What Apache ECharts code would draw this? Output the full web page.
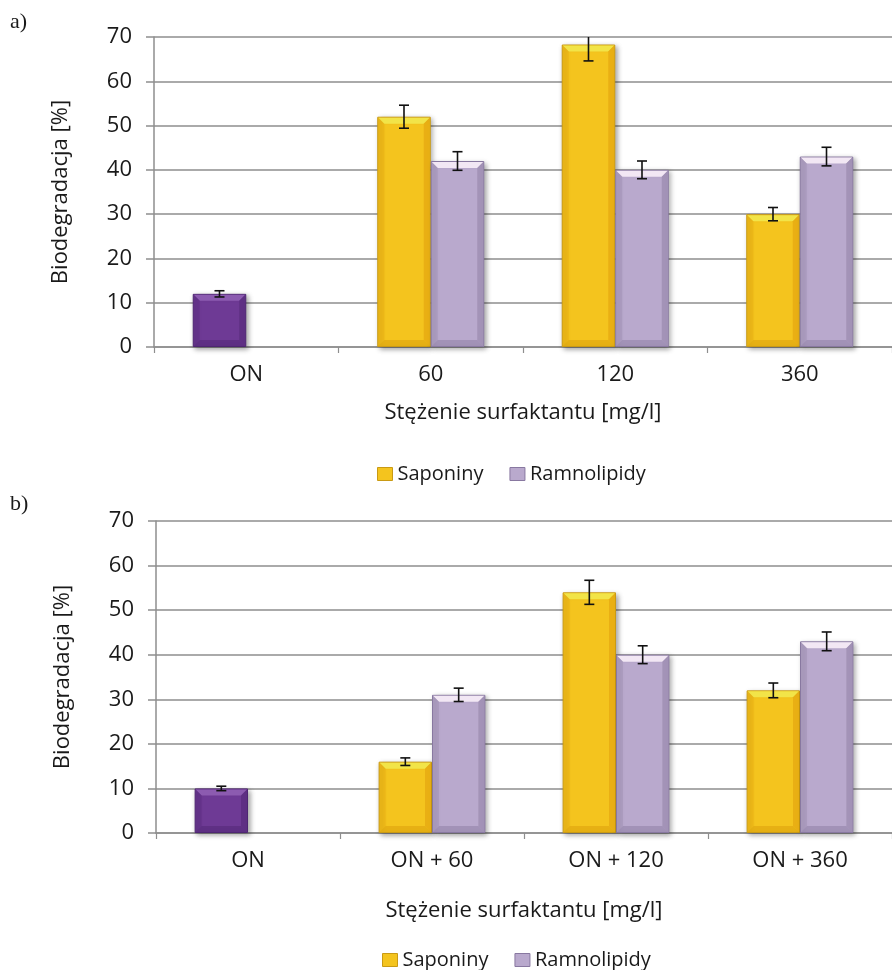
<!DOCTYPE html>
<html><head><meta charset="utf-8">
<script src="https://cdn.jsdelivr.net/npm/echarts@6/dist/echarts.min.js"></script>
<style>html,body{margin:0;padding:0;background:#fff}#c{width:892px;height:970px}</style>
</head><body><div id="c"></div>
<script>
// ---- data ----
const seriesNames = ['Saponiny', 'Ramnolipidy'];
const yTicks = [0, 10, 20, 30, 40, 50, 60, 70];
const categoriesA = ['ON', '60', '120', '360'];
const saponinyA = [12, 52, 68.3, 30];
const ramnolipidyA = [null, 42, 40, 43];
const saponinyErrA = [0.7, 2.6, 3.7, 1.5];
const ramnolipidyErrA = [null, 2.1, 2.0, 2.1];
const categoriesB = ['ON', 'ON + 60', 'ON + 120', 'ON + 360'];
const saponinyB = [10, 16, 54, 32];
const ramnolipidyB = [null, 31, 40, 43];
const saponinyErrB = [0.5, 0.85, 2.7, 1.65];
const ramnolipidyErrB = [null, 1.5, 2.0, 2.1];
const titleA = 'a)', titleB = 'b)';
const xName = 'Stężenie surfaktantu [mg/l]';
const yName = 'Biodegradacja [%]';

// ---- styling ----
const FONT = 'Open Sans';
const FS = 22;
const LFS = 20;
const TXT = '#1a1a1a';
const GRIDC = '#8e8e8e';
const GAP = 0.42; // bar category gap
const pal = {
  sap: {main: '#F4C41E', top: '#F2E448', side: '#E6AA12', bottom: '#DDA30E', border: '#C99A14'},
  ram: {main: '#B9A9CD', top: '#F2E7F4', side: '#9D8DB2', bottom: '#9283A8', border: '#8878A0'},
  on:  {main: '#6E3A95', top: '#8C5BB0', side: '#5B2D80', bottom: '#55297A', border: '#4E2672'}
};

function barSeries(name, data, xi, p, onFirst) {
  return {
    name: name, type: 'bar', xAxisIndex: xi, yAxisIndex: xi,
    barGap: '0%', barCategoryGap: (GAP * 100) + '%',
    data: data.map((v, i) => (onFirst && i === 0) ? {value: v, itemStyle: {color: pal.on.main, borderColor: pal.on.border}} : v),
    itemStyle: {color: p.main, borderColor: p.border, borderWidth: 1,
      shadowColor: 'rgba(0,0,0,0.35)', shadowBlur: 5, shadowOffsetX: 2, shadowOffsetY: 2},
    emphasis: {disabled: true}, z: 2
  };
}

function slotX(api, idx, val, side) {
  const c = api.coord([idx, val]);
  const band = api.size([1, 0])[0];
  const bw = band * (1 - GAP) / 2;
  return {x: c[0] + side * bw / 2, bw: bw, y: c[1]};
}

function bevelSeries(vals, xi, p, side, onFirst) {
  const data = [];
  vals.forEach((v, i) => { if (v != null) data.push([i, v]); });
  return {
    type: 'custom', xAxisIndex: xi, yAxisIndex: xi, silent: true, z: 3,
    data: data,
    renderItem: function (params, api) {
      const idx = api.value(0), v = api.value(1);
      const s = slotX(api, idx, v, side);
      const y0 = api.coord([idx, 0])[1];
      const cols = (onFirst && idx === 0) ? pal.on : p;
      const l = s.x - s.bw / 2 + 1, r = s.x + s.bw / 2 - 1, t = s.y + 1, b = y0 - 1;
      const bv = Math.min(6, (b - t) / 2);
      return {type: 'group', children: [
        {type: 'polygon', shape: {points: [[l, t], [r, t], [r - bv, t + bv], [l + bv, t + bv]]}, style: {fill: cols.top}},
        {type: 'polygon', shape: {points: [[r, t], [r, b], [r - bv, b - bv], [r - bv, t + bv]]}, style: {fill: cols.side, opacity: 0.8}},
        {type: 'polygon', shape: {points: [[l, t], [l + bv, t + bv], [l + bv, b - bv], [l, b]]}, style: {fill: cols.side, opacity: 0.45}},
        {type: 'polygon', shape: {points: [[l, b], [l + bv, b - bv], [r - bv, b - bv], [r, b]]}, style: {fill: cols.bottom, opacity: 0.6}}
      ]};
    }
  };
}

function errSeries(vals, errs, xi, side) {
  const data = [];
  vals.forEach((v, i) => { if (v != null) data.push([i, v, errs[i]]); });
  return {
    type: 'custom', xAxisIndex: xi, yAxisIndex: xi, silent: true, z: 5, clip: true,
    data: data,
    renderItem: function (params, api) {
      const idx = api.value(0), v = api.value(1), e = api.value(2);
      const s = slotX(api, idx, v, side);
      const yt = api.coord([idx, v + e])[1], yb = api.coord([idx, v - e])[1];
      const cw = 5, st = {stroke: '#111', lineWidth: 1.6};
      return {type: 'group', children: [
        {type: 'line', shape: {x1: s.x, y1: yt, x2: s.x, y2: yb}, style: st},
        {type: 'line', shape: {x1: s.x - cw, y1: yt, x2: s.x + cw, y2: yt}, style: st},
        {type: 'line', shape: {x1: s.x - cw, y1: yb, x2: s.x + cw, y2: yb}, style: st}
      ]};
    }
  };
}

function xAxis(gi, cats, nameGap) {
  return {
    type: 'category', gridIndex: gi, data: cats,
    name: xName, nameLocation: 'middle', nameGap: nameGap,
    nameTextStyle: {fontFamily: FONT, fontSize: FS, color: TXT},
    axisLine: {lineStyle: {color: GRIDC, width: 1.5}},
    axisTick: {show: true, length: 6, lineStyle: {color: GRIDC, width: 1.2}},
    axisLabel: {fontFamily: FONT, fontSize: FS, color: TXT, margin: 17},
    splitLine: {show: false}
  };
}
function yAxis(gi) {
  return {
    type: 'value', gridIndex: gi, min: yTicks[0], max: yTicks[yTicks.length - 1], interval: yTicks[1] - yTicks[0],
    name: yName, nameLocation: 'middle', nameGap: 82, nameRotate: 90,
    nameTextStyle: {fontFamily: FONT, fontSize: FS, color: TXT},
    axisLine: {show: true, lineStyle: {color: GRIDC, width: 1.5}},
    axisTick: {show: true, length: 8, lineStyle: {color: GRIDC, width: 1.5}},
    axisLabel: {fontFamily: FONT, fontSize: FS, color: TXT, margin: 22},
    splitLine: {lineStyle: {color: GRIDC, width: 1.5}}
  };
}
function legend(top, left) {
  return {
    top: top, left: left, itemWidth: 15, itemHeight: 13, itemGap: 26,
    icon: 'rect', textStyle: {fontFamily: FONT, fontSize: LFS, color: TXT},
    selectedMode: false,
    data: [
      {name: seriesNames[0], itemStyle: {color: pal.sap.main, borderColor: pal.sap.border, borderWidth: 1}},
      {name: seriesNames[1], itemStyle: {color: pal.ram.main, borderColor: pal.ram.border, borderWidth: 1}}
    ]
  };
}

const chart = echarts.init(document.getElementById('c'), null, {renderer: 'canvas'});
chart.setOption({
  backgroundColor: '#fff',
  animation: false,
  graphic: [
    {type: 'text', left: 10, top: 11, style: {text: titleA, font: '22px "Liberation Serif"', fill: TXT}},
    {type: 'text', left: 10, top: 493, style: {text: titleB, font: '22px "Liberation Serif"', fill: TXT}}
  ],
  legend: [legend(459, 372), legend(945, 377)],
  grid: [
    {left: 154, top: 37, width: 743, height: 310},
    {left: 156, top: 521, width: 742, height: 312}
  ],
  xAxis: [xAxis(0, categoriesA, 55), xAxis(1, categoriesB, 67)],
  yAxis: [yAxis(0), yAxis(1)],
  series: [
    barSeries(seriesNames[0], saponinyA, 0, pal.sap, true),
    barSeries(seriesNames[1], ramnolipidyA, 0, pal.ram, false),
    bevelSeries(saponinyA, 0, pal.sap, -1, true),
    bevelSeries(ramnolipidyA, 0, pal.ram, 1, false),
    errSeries(saponinyA, saponinyErrA, 0, -1),
    errSeries(ramnolipidyA, ramnolipidyErrA, 0, 1),
    barSeries(seriesNames[0], saponinyB, 1, pal.sap, true),
    barSeries(seriesNames[1], ramnolipidyB, 1, pal.ram, false),
    bevelSeries(saponinyB, 1, pal.sap, -1, true),
    bevelSeries(ramnolipidyB, 1, pal.ram, 1, false),
    errSeries(saponinyB, saponinyErrB, 1, -1),
    errSeries(ramnolipidyB, ramnolipidyErrB, 1, 1)
  ]
});
</script></body></html>
